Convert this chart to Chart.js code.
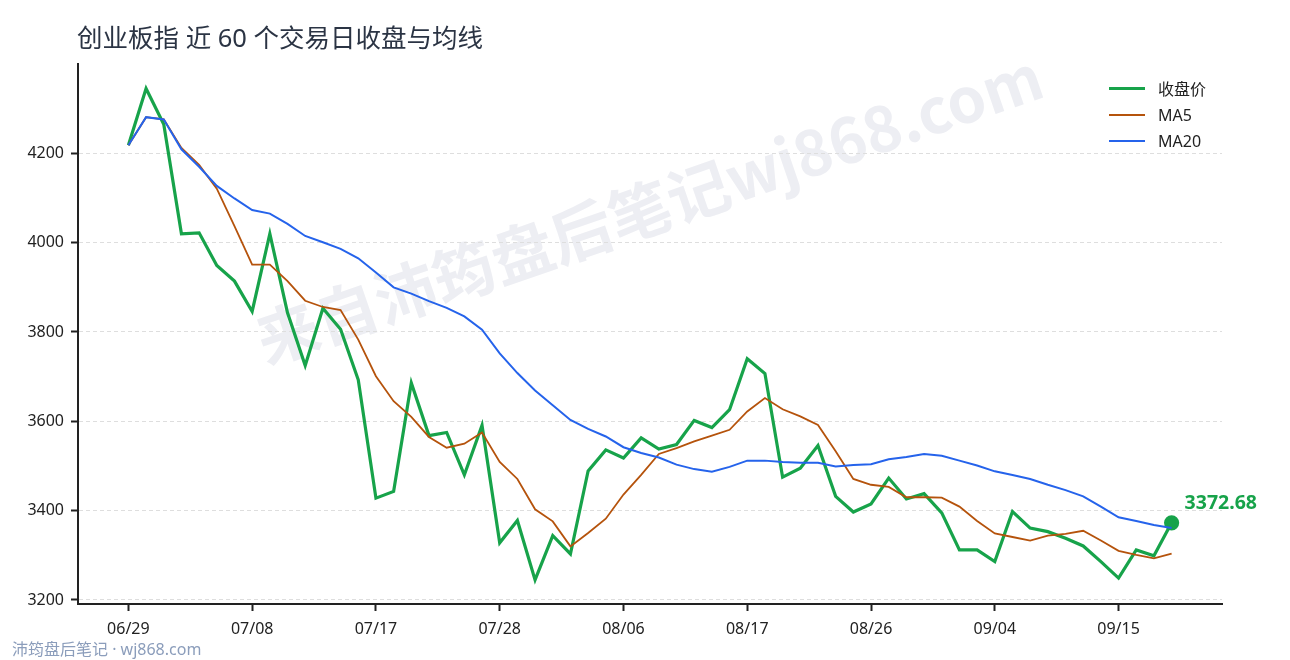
<!DOCTYPE html>
<html lang="zh">
<head>
    <meta charset="UTF-8">
    <title>创业板指 近 60 个交易日收盘与均线</title>
    <script src="https://cdn.jsdelivr.net/npm/chart.js@4.4.1/dist/chart.umd.min.js"></script>
    <style>
        body { margin: 0; background: #fff; font-family: "Noto Sans", "Noto Sans CJK SC", sans-serif; }
        #wrap { position: relative; width: 1290px; height: 660px; overflow: hidden; }
        #myChart { position: absolute; left: 0; top: 0; z-index: 2; }
        #title { position: absolute; left: 77px; top: 17px; font-size: 25.5px; color: #2b3444; z-index: 3; white-space: nowrap; }
        #footer { position: absolute; left: 12px; top: 636px; font-size: 16px; color: #8b9dbb; z-index: 3; white-space: nowrap; }
        #mark { position: absolute; left: 648px; top: 205px; transform: translate(-50%, -50%) rotate(-19deg);
                font-family: "Noto Sans CJK SC", sans-serif;
                font-size: 62px; font-weight: bold; color: #edeef3; white-space: nowrap; z-index: 1; }
        #legend { position: absolute; left: 1109px; top: 75px; z-index: 3; font-size: 16px; color: #222; }
        #legend div { height: 26.5px; display: flex; align-items: center; }
        #legend span.sw { display: inline-block; width: 36px; margin-right: 13px; }
    </style>
</head>
<body>
    <div id="wrap">
        <div id="mark">来自沛筠盘后笔记wj868.com</div>
        <div id="title">创业板指 近 60 个交易日收盘与均线</div>
        <canvas id="myChart" width="1290" height="660"></canvas>
        <div id="legend"></div>
        <div id="footer">沛筠盘后笔记 · wj868.com</div>
    </div>

    <script>
        const dates = ["06/29","06/30","07/01","07/02","07/03","07/06","07/07","07/08","07/09","07/10",
                       "07/13","07/14","07/15","07/16","07/17","07/20","07/21","07/22","07/23","07/24",
                       "07/27","07/28","07/29","07/30","07/31","08/03","08/04","08/05","08/06","08/07",
                       "08/10","08/11","08/12","08/13","08/14","08/17","08/18","08/19","08/20","08/21",
                       "08/24","08/25","08/26","08/27","08/28","08/31","09/01","09/02","09/03","09/04",
                       "09/07","09/08","09/09","09/10","09/11","09/14","09/15","09/16","09/17","09/18"];
        const closeVals = [4218,4345,4265,4020,4022,3949,3914,3846,4020,3843,
                           3725,3853,3806,3693,3428,3443,3686,3568,3575,3480,
                           3591,3328,3378,3245,3344,3303,3489,3536,3518,3563,
                           3538,3548,3602,3586,3626,3740,3707,3475,3495,3546,
                           3432,3397,3415,3473,3426,3438,3395,3312,3312,3286,
                           3398,3361,3353,3338,3321,3286,3249,3312,3299,3372.68];
        const ma5Vals = [4218,4281,4276,4212,4174,4121,4037,3951,3951,3914,
                         3870,3856,3849,3783,3701,3645,3610,3565,3541,3550,
                         3575,3509,3471,3403,3376,3320,3350,3382,3436,3480,
                         3527,3540,3555,3568,3581,3622,3652,3627,3611,3592,
                         3533,3471,3458,3453,3430,3430,3429,3409,3377,3349,
                         3341,3333,3344,3348,3355,3333,3310,3301,3293,3304];
        const ma20Vals = [4218,4281,4276,4209,4170,4127,4099,4073,4065,4042,
                          4015,4001,3986,3965,3933,3900,3886,3869,3854,3835,
                          3805,3752,3708,3669,3636,3603,3583,3566,3542,3529,
                          3519,3503,3493,3487,3498,3512,3512,3509,3507,3507,
                          3499,3502,3504,3515,3520,3527,3523,3512,3501,3488,
                          3480,3471,3458,3446,3432,3409,3385,3377,3368,3361];
        const xTickIdx = [0,7,14,21,28,35,42,49,56];
        const yTicks = [3200,3400,3600,3800,4000,4200];

        const series = [
            { label: "收盘价", data: closeVals, color: "#17a34a", width: 3.2 },
            { label: "MA5", data: ma5Vals, color: "#b5530c", width: 1.8 },
            { label: "MA20", data: ma20Vals, color: "#2563eb", width: 2 }
        ];

        // legend in html
        const lg = document.getElementById("legend");
        series.forEach(s => {
            const row = document.createElement("div");
            row.innerHTML = '<span class="sw" style="height:' + s.width + 'px;background:' + s.color + '"></span>' + s.label;
            lg.appendChild(row);
        });

        const lastLabel = {
            id: "lastLabel",
            afterDatasetsDraw(chart) {
                const meta = chart.getDatasetMeta(0);
                const pt = meta.data[meta.data.length - 1];
                const ctx = chart.ctx;
                ctx.save();
                ctx.font = "bold 19.5px 'Noto Sans', sans-serif";
                ctx.fillStyle = "#17a34a";
                ctx.textAlign = "left";
                ctx.textBaseline = "middle";
                ctx.fillText(closeVals[closeVals.length - 1].toFixed(2), pt.x + 13, pt.y - 19);
                ctx.restore();
            }
        };

        const tickFont = { family: "'Noto Sans', sans-serif", size: 16 };

        new Chart("myChart", {
            type: "line",
            data: {
                datasets: series.map((s, k) => ({
                    label: s.label,
                    data: s.data.map((v, i) => ({ x: i, y: v })),
                    borderColor: s.color,
                    backgroundColor: s.color,
                    borderWidth: s.width,
                    fill: false,
                    tension: 0,
                    pointRadius: k === 0 ? (c => c.dataIndex === s.data.length - 1 ? 6 : 0) : 0,
                    pointHoverRadius: 0,
                    order: 3 - k
                }))
            },
            options: {
                responsive: false,
                animation: false,
                layout: { padding: { top: 64, right: 68, left: 0, bottom: 0 } },
                plugins: {
                    legend: { display: false },
                    tooltip: { enabled: false }
                },
                scales: {
                    x: {
                        type: "linear",
                        min: -2.85,
                        max: 61.85,
                        afterBuildTicks: sc => { sc.ticks = xTickIdx.map(v => ({ value: v })); },
                        afterFit: sc => { sc.height = 56; },
                        ticks: {
                            color: "#222",
                            font: tickFont,
                            padding: 9,
                            maxRotation: 0,
                            callback: v => dates[v]
                        },
                        grid: { drawOnChartArea: false, tickColor: "#222", tickLength: 7, tickWidth: 2 },
                        border: { color: "#222", width: 2 }
                    },
                    y: {
                        min: 3191,
                        max: 4400,
                        afterBuildTicks: sc => { sc.ticks = yTicks.map(v => ({ value: v })); },
                        afterFit: sc => { sc.width = 78; },
                        ticks: { color: "#222", font: tickFont, padding: 7, callback: v => String(v) },
                        grid: { color: "#dedede", lineWidth: 1, borderDash: [4, 3], tickColor: "#222", tickLength: 7, tickWidth: 2, tickBorderDash: [] },
                        border: { color: "#222", width: 2, dash: [4, 3] }
                    }
                }
            },
            plugins: [lastLabel]
        });
    </script>
</body>
</html>
